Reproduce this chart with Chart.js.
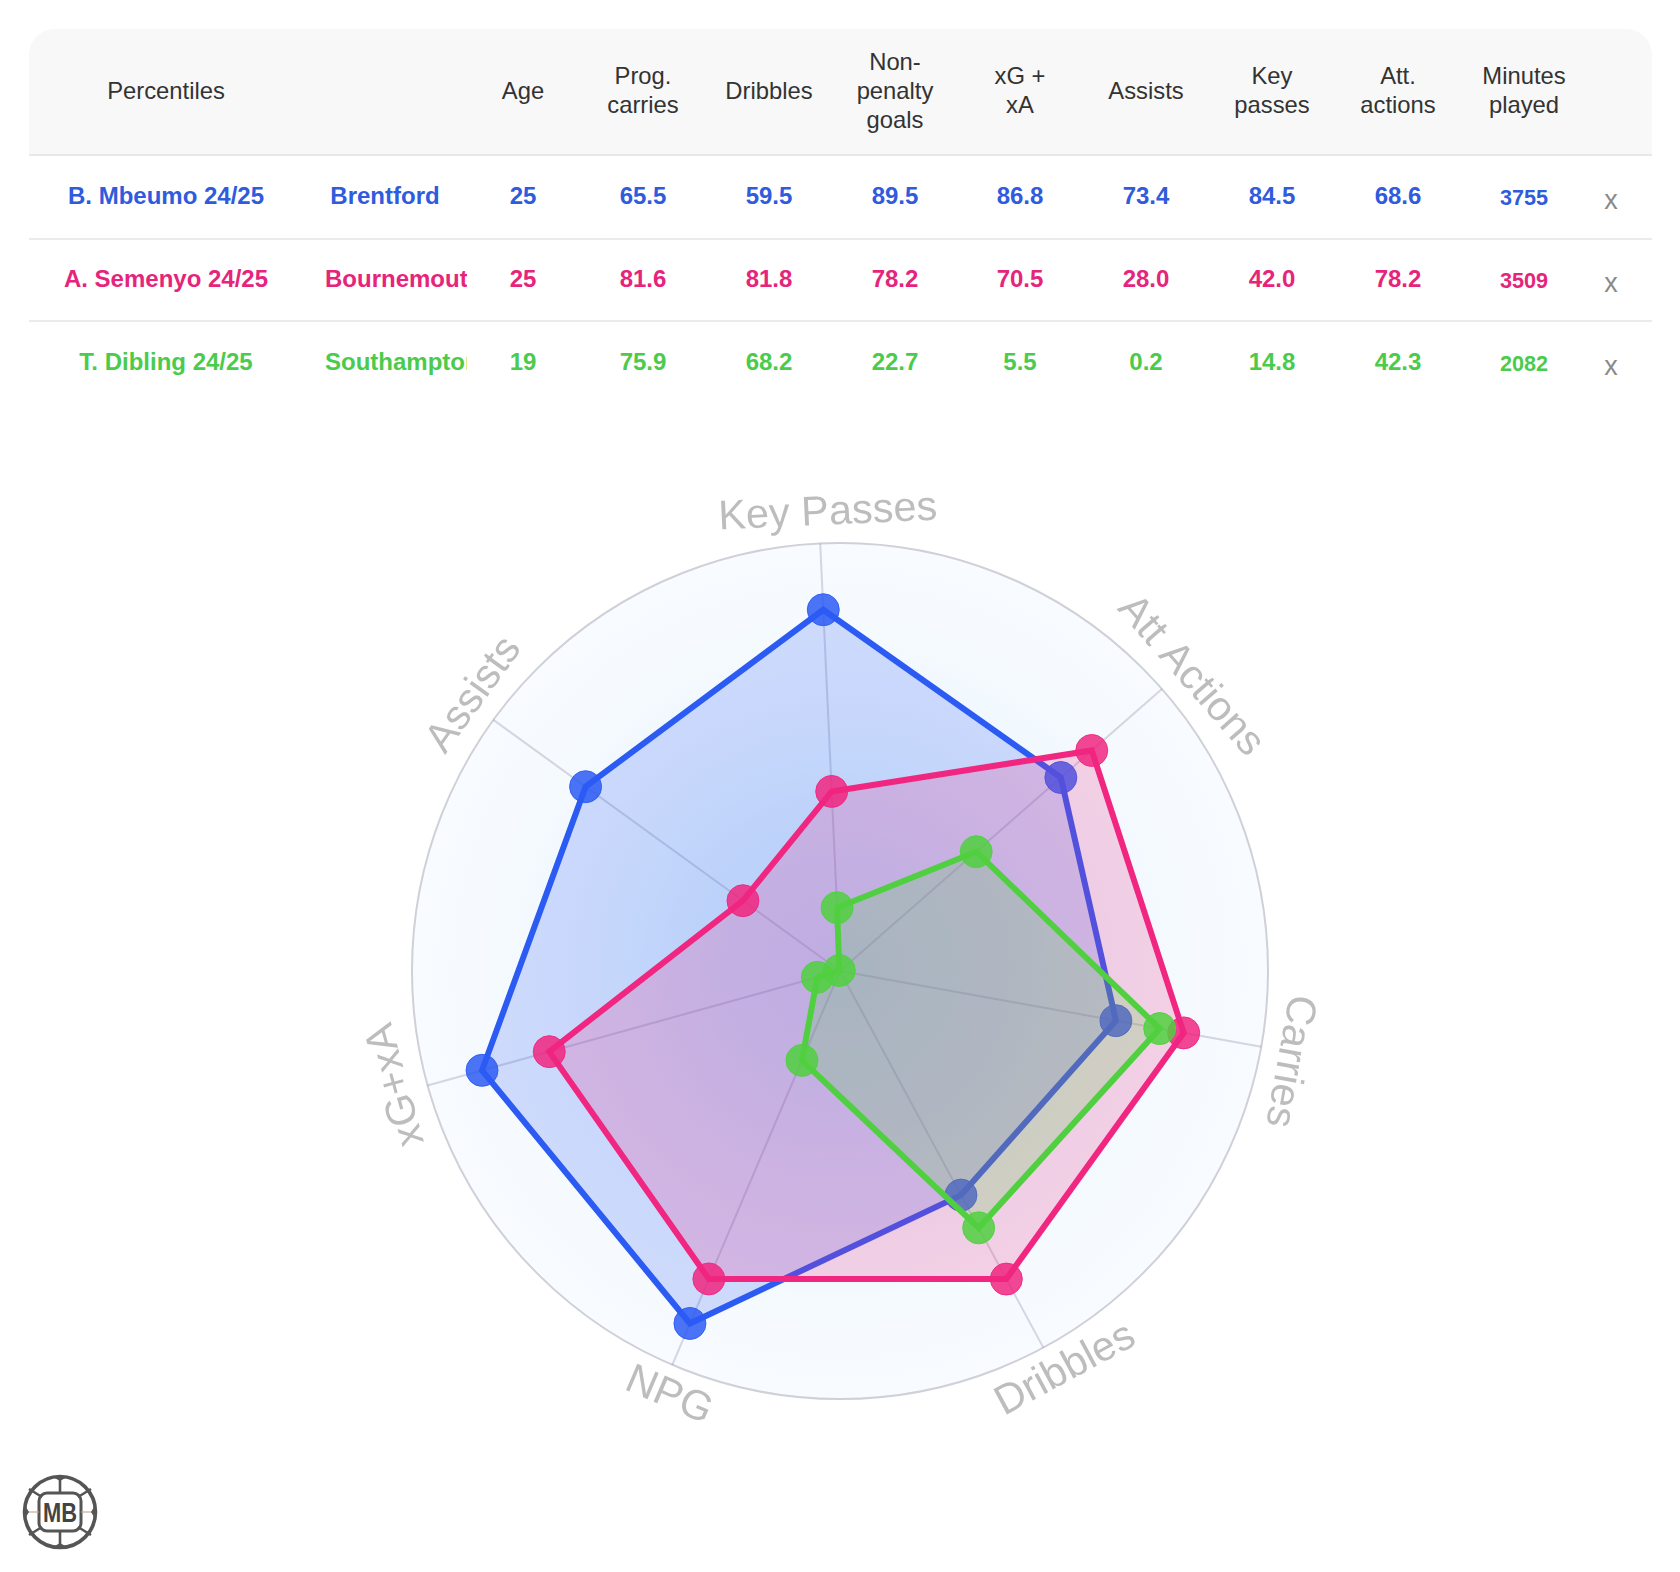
<!DOCTYPE html>
<html><head><meta charset="utf-8">
<script src="https://cdn.jsdelivr.net/npm/chart.js@4/dist/chart.umd.min.js"></script>
<style>
html,body{margin:0;padding:0;background:#fff;width:1680px;height:1572px;overflow:hidden;font-family:"Liberation Sans",Arial,sans-serif}
#panel{position:absolute;left:29px;top:29px;width:1623px;height:125px;background:#f8f8f8;border-radius:26px 26px 0 0;border-bottom:2px solid #e8e8e8;box-sizing:content-box}
.rule{position:absolute;left:29px;width:1623px;height:2px;background:#ebebeb}
.c{position:absolute;text-align:center;white-space:nowrap;transform:translate(-50%,-50%)}
.h{font-size:23.8px;line-height:29px;color:#333;white-space:pre}
.v{font-size:24px;font-weight:bold;line-height:29px}
.m{font-size:21.6px;font-weight:bold;line-height:29px}
.x{font-size:27px;line-height:29px;color:#8a8a8a}
.club{position:absolute;left:325px;width:142px;height:30px;overflow:hidden;font-size:24px;font-weight:bold;line-height:29px;white-space:nowrap}
.club div{width:120px;text-align:center}
canvas{position:absolute;left:340px;top:471px}
#logo{position:absolute;left:20px;top:1472px}
</style></head><body>
<div id="panel"></div><div id="table"></div>
<canvas id="radar" width="1000" height="1000" style="width:1000px;height:1000px"></canvas>
<svg id="logo" width="80" height="80" viewBox="0 0 80 80">
<g fill="none" stroke="#555" stroke-width="2.6">
<circle cx="40" cy="40" r="35.5" stroke-width="3.6"/>
<rect x="19" y="21" width="42" height="38" rx="8" stroke-width="3"/>
<path d="M40 5V21M40 59V75M22 25L9 17M58 25L71 17M22 55L9 63M58 55L71 63"/>
</g>
<path d="M5 40H19M61 40H75" stroke="#c98" stroke-width="1.2"/>
<path d="M4 32L9 40L4 48ZM76 32L71 40L76 48ZM33 5H47L40 9ZM33 75H47L40 71Z" fill="#555"/>
<text x="40" y="50" text-anchor="middle" font-family="Liberation Sans" font-weight="bold" font-size="27" fill="#444" textLength="34" lengthAdjust="spacingAndGlyphs">MB</text>
</svg>
<script>
// Radar data
const categories = ["Key Passes","Att Actions","Carries","Dribbles","NPG","xG+xA","Assists"];
const mbeumoValues  = [84.5,68.6,65.5,59.5,89.5,86.8,73.4];
const semenyoValues = [42.0,78.2,81.6,81.8,78.2,70.5,28.0];
const diblingValues = [14.8,42.3,75.9,68.2,22.7,5.5,0.2];
// Table data
const tableHeaders = ["Age","Prog.\ncarries","Dribbles","Non-\npenalty\ngoals","xG +\nxA","Assists","Key\npasses","Att.\nactions","Minutes\nplayed"];
const players = ["B. Mbeumo 24/25","A. Semenyo 24/25","T. Dibling 24/25"];
const clubs = ["Brentford","Bournemouth","Southampton"];
const mbeumoRow  = ["25","65.5","59.5","89.5","86.8","73.4","84.5","68.6","3755"];
const semenyoRow = ["25","81.6","81.8","78.2","70.5","28.0","42.0","78.2","3509"];
const diblingRow = ["19","75.9","68.2","22.7","5.5","0.2","14.8","42.3","2082"];

const tableRows = [mbeumoRow,semenyoRow,diblingRow];
const textColors = ["#2f5bdc","#e6247c","#4bcb4b"];
const lineColors = ["43,91,243","240,38,128","80,208,64"];

const colX = [523,643,769,895,1020,1146,1272,1398,1524];
const rowY = [195,278,361];
const table = document.getElementById('table');
function cell(cls,x,y,txt,color){const d=document.createElement('div');d.className='c '+cls;d.style.left=x+'px';d.style.top=y+'px';d.textContent=txt;if(color)d.style.color=color;table.appendChild(d);}
cell('h',166,90,'Percentiles');
tableHeaders.forEach((h,i)=>cell('h',colX[i],90,h));
[238,320].forEach(y=>{const r=document.createElement('div');r.className='rule';r.style.top=y+'px';table.appendChild(r);});
players.forEach((p,r)=>{
  const col=textColors[r],y=rowY[r];
  cell('v',166,y,p,col);
  const c=document.createElement('div');c.className='club';c.style.top=(y-14)+'px';c.style.color=col;
  const inner=document.createElement('div');inner.textContent=clubs[r];c.appendChild(inner);table.appendChild(c);
  tableRows[r].forEach((v,i)=>cell(i===8?'m':'v',colX[i],i===8?y+1.5:y,v,col));
  cell('x',1611,y+5,'x');
});

const discPlugin={id:'disc',beforeDraw(chart){
  const s=chart.scales.r,ctx=chart.ctx,R=s.drawingArea;
  const g=ctx.createRadialGradient(s.xCenter,s.yCenter,0,s.xCenter,s.yCenter,R);
  g.addColorStop(0,'#d6ecfc');g.addColorStop(0.3,'#dff0fc');g.addColorStop(0.55,'#ecf6fd');
  g.addColorStop(0.8,'#f5fafe');g.addColorStop(1,'#f8fbff');
  ctx.save();ctx.fillStyle=g;ctx.beginPath();ctx.arc(s.xCenter,s.yCenter,R,0,Math.PI*2);ctx.fill();ctx.restore();
}};
const labelPlugin={id:'rotLabels',afterDraw(chart){
  const s=chart.scales.r,ctx=chart.ctx;
  ctx.save();ctx.font='41.5px "Liberation Sans"';ctx.fillStyle='#bdbdbd';ctx.textAlign='center';ctx.textBaseline='middle';
  categories.forEach((t,i)=>{
    const a=s.getIndexAngle(i),deg=a*180/Math.PI;
    const p=s.getPointPosition(i,s.drawingArea+30);
    ctx.save();ctx.translate(p.x,p.y);
    ctx.rotate(deg>120&&deg<240?a-Math.PI:a);
    ctx.fillText(t,9,0);ctx.restore();
  });
  ctx.restore();
}};
function ds(label,data,rgb,order){return {label,data,order,
  borderColor:`rgb(${rgb})`,borderWidth:6,backgroundColor:`rgba(${rgb},0.2)`,fill:true,tension:0,
  pointRadius:16,pointBorderWidth:1,pointBackgroundColor:`rgba(${rgb},0.85)`,pointBorderColor:`rgba(${rgb},0.9)`};}
new Chart(document.getElementById('radar'),{
  type:'radar',
  data:{labels:categories,datasets:[
    ds(players[0],mbeumoValues,lineColors[0],3),
    ds(players[1],semenyoValues,lineColors[1],2),
    ds(players[2],diblingValues,lineColors[2],1)]},
  options:{responsive:false,animation:false,devicePixelRatio:1,
    layout:{padding:72},
    plugins:{legend:{display:false},tooltip:{enabled:false}},
    scales:{r:{min:0,max:100,startAngle:-2.65,
      ticks:{display:false,stepSize:100},
      pointLabels:{display:false},
      grid:{circular:true,color:'#cfd0d8',lineWidth:2},
      angleLines:{color:'rgba(130,130,160,0.3)',lineWidth:2}}}},
  plugins:[discPlugin,labelPlugin]
});
</script></body></html>
